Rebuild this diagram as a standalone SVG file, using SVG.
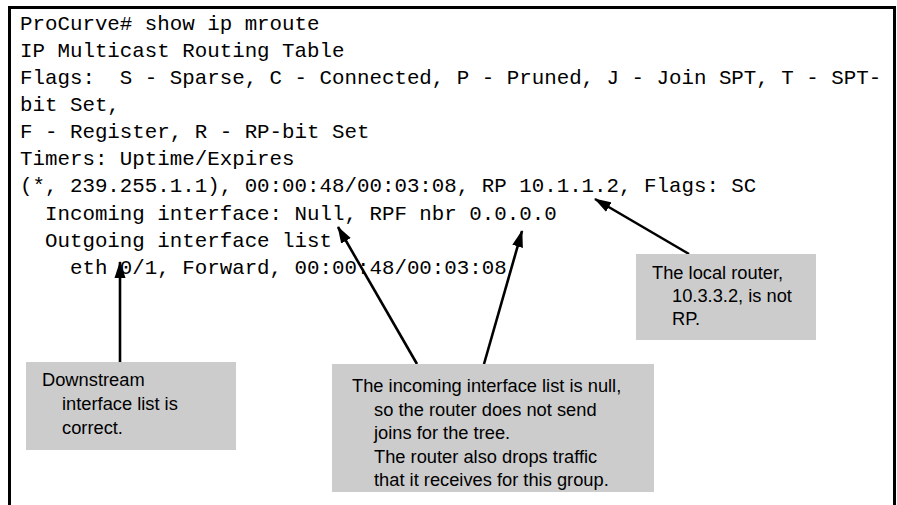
<svg xmlns="http://www.w3.org/2000/svg" width="897" height="505" viewBox="0 0 897 505">
<style>
.mono{font-family:"Liberation Mono","Courier New",monospace;font-size:20.8px;fill:#000;white-space:pre}
.note{font-family:"Liberation Sans Narrow","Liberation Sans",Arial,sans-serif;font-size:18.3px;fill:#000}
.box{fill:#cccccc}
.conn{stroke:#000;stroke-width:2.6;fill:none}
</style>
<defs>
<marker id="ah" markerUnits="userSpaceOnUse" markerWidth="18" markerHeight="12" refX="16" refY="6" orient="auto">
<path d="M0,0.5 L17,6 L0,11.5 Z" fill="#000"/>
</marker>
</defs>
<rect width="897" height="505" fill="#fff"/>
<g id="frame" fill="none" stroke="#000" stroke-width="3">
<polyline points="9.5,505 9.5,7.5 894.5,7.5 894.5,505"/>
</g>
<g id="listing" class="mono">
<text xml:space="preserve" x="20" y="30">ProCurve# show ip mroute</text>
<text xml:space="preserve" x="20" y="57">IP Multicast Routing Table</text>
<text xml:space="preserve" x="20" y="84">Flags:  S - Sparse, C - Connected, P - Pruned, J - Join SPT, T - SPT-</text>
<text xml:space="preserve" x="20" y="111">bit Set,</text>
<text xml:space="preserve" x="20" y="138">F - Register, R - RP-bit Set</text>
<text xml:space="preserve" x="20" y="165">Timers: Uptime/Expires</text>
<text xml:space="preserve" x="20" y="192">(*, 239.255.1.1), 00:00:48/00:03:08, RP 10.1.1.2, Flags: SC</text>
<text xml:space="preserve" x="20" y="220">  Incoming interface: Null, RPF nbr 0.0.0.0</text>
<text xml:space="preserve" x="20" y="247">  Outgoing interface list</text>
<text xml:space="preserve" x="20" y="274">    eth 0/1, Forward, 00:00:48/00:03:08</text>
</g>
<g id="connectors" class="conn">
<line x1="120" y1="362" x2="120" y2="262" marker-end="url(#ah)"/>
<line x1="417" y1="364" x2="338" y2="227" marker-end="url(#ah)"/>
<line x1="484" y1="364" x2="522" y2="231" marker-end="url(#ah)"/>
<line x1="689" y1="254" x2="595" y2="199" marker-end="url(#ah)"/>
</g>
<g id="note-downstream">
<rect class="box" x="26" y="362" width="210" height="88"/>
<text class="note" x="42" y="386">Downstream</text>
<text class="note" x="62" y="410">interface list is</text>
<text class="note" x="62" y="434">correct.</text>
</g>
<g id="note-incoming">
<rect class="box" x="332" y="364" width="322" height="128"/>
<text class="note" x="352" y="392">The incoming interface list is null,</text>
<text class="note" x="374" y="415.5">so the router does not send</text>
<text class="note" x="374" y="439">joins for the tree.</text>
<text class="note" x="374" y="462.5">The router also drops traffic</text>
<text class="note" x="374" y="486">that it receives for this group.</text>
</g>
<g id="note-rp">
<rect class="box" x="636" y="254" width="180" height="86"/>
<text class="note" x="652" y="279">The local router,</text>
<text class="note" x="672" y="302">10.3.3.2, is not</text>
<text class="note" x="672" y="325">RP.</text>
</g>
</svg>
